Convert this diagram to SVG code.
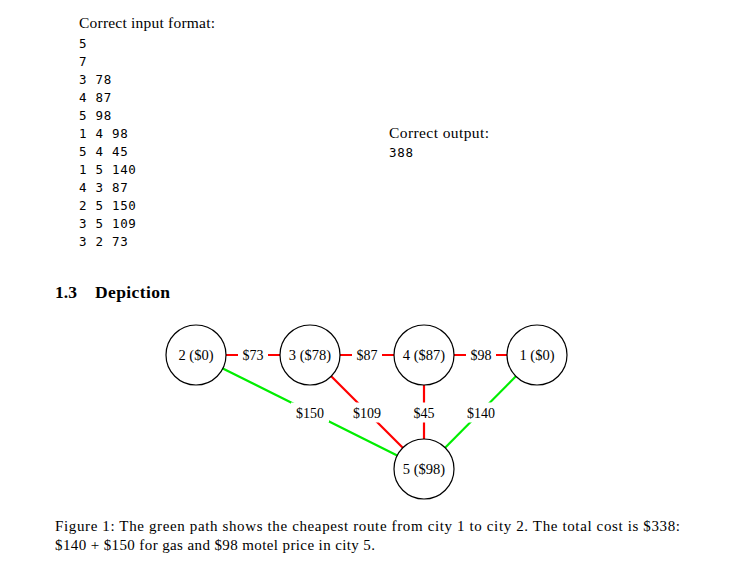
<svg xmlns="http://www.w3.org/2000/svg" width="752" height="564" viewBox="0 0 752 564">
<style>
.serif{font-family:"Liberation Serif","Times New Roman",serif;fill:#000}
.mono{font-family:"DejaVu Sans Mono","Liberation Mono",monospace;font-size:12.5px;letter-spacing:0.7px;fill:#000}
.node circle{fill:#fff;stroke:#000;stroke-width:1.2}
.node text{font-family:"Liberation Serif","Times New Roman",serif;font-size:14.5px;text-anchor:middle}
.red{stroke:#ff0000;stroke-width:2.2;fill:none}
.green{stroke:#00ee00;stroke-width:2.2;fill:none}
.lbl rect{fill:#fff}
.lbl text{font-family:"Liberation Serif","Times New Roman",serif;font-size:14px;text-anchor:middle}
</style>
<rect width="752" height="564" fill="#fff"/>
<text class="serif" x="79" y="28" font-size="15.5px" textLength="136">Correct input format:</text>
<g class="mono">
<text x="79" y="48">5</text>
<text x="79" y="66">7</text>
<text x="79" y="84" xml:space="preserve">3 78</text>
<text x="79" y="102" xml:space="preserve">4 87</text>
<text x="79" y="120" xml:space="preserve">5 98</text>
<text x="79" y="138" xml:space="preserve">1 4 98</text>
<text x="79" y="156" xml:space="preserve">5 4 45</text>
<text x="79" y="174" xml:space="preserve">1 5 140</text>
<text x="79" y="192" xml:space="preserve">4 3 87</text>
<text x="79" y="210" xml:space="preserve">2 5 150</text>
<text x="79" y="228" xml:space="preserve">3 5 109</text>
<text x="79" y="246" xml:space="preserve">3 2 73</text>
</g>
<text class="serif" x="389" y="138" font-size="15.5px" textLength="100">Correct output:</text>
<text class="mono" x="389" y="157">388</text>
<text class="serif" x="55" y="298" font-size="17.5px" font-weight="bold">1.3</text>
<text class="serif" x="95" y="298" font-size="17.5px" font-weight="bold" textLength="75">Depiction</text>
<g id="connectors">
<line class="red" x1="226" y1="355" x2="280" y2="355"/>
<line class="red" x1="340" y1="355" x2="394" y2="355"/>
<line class="red" x1="454" y1="355" x2="507" y2="355"/>
<line class="green" x1="222.8" y1="368.4" x2="397.2" y2="455.6"/>
<line class="red" x1="331.2" y1="376.2" x2="402.8" y2="447.8"/>
<line class="red" x1="424" y1="385" x2="424" y2="439"/>
<line class="green" x1="515.9" y1="376.3" x2="445.1" y2="447.7"/>
<g class="lbl">
<rect x="238" y="345" width="30" height="20"/><text x="253" y="360">$73</text>
<rect x="352" y="345" width="30" height="20"/><text x="367" y="360">$87</text>
<rect x="466" y="345" width="30" height="20"/><text x="481" y="360">$98</text>
<rect x="291" y="402.5" width="38" height="20"/><text x="310" y="417.5">$150</text>
<rect x="348" y="402.5" width="38" height="20"/><text x="367" y="417.5">$109</text>
<rect x="409" y="402.5" width="30" height="20"/><text x="424" y="417.5">$45</text>
<rect x="462" y="402.5" width="38" height="20"/><text x="481" y="417.5">$140</text>
</g>
</g>
<g id="node2" class="node"><circle cx="196" cy="355" r="30"/><text x="196" y="360">2 ($0)</text></g>
<g id="node3" class="node"><circle cx="310" cy="355" r="30"/><text x="310" y="360">3 ($78)</text></g>
<g id="node4" class="node"><circle cx="424" cy="355" r="30"/><text x="424" y="360">4 ($87)</text></g>
<g id="node1" class="node"><circle cx="537" cy="355" r="30"/><text x="537" y="360">1 ($0)</text></g>
<g id="node5" class="node"><circle cx="424" cy="469" r="30"/><text x="424" y="474">5 ($98)</text></g>
<text class="serif" x="55" y="531" font-size="15px" textLength="625">Figure 1: The green path shows the cheapest route from city 1 to city 2. The total cost is $338:</text>
<text class="serif" x="55" y="550" font-size="15px" textLength="320">$140 + $150 for gas and $98 motel price in city 5.</text>
</svg>
